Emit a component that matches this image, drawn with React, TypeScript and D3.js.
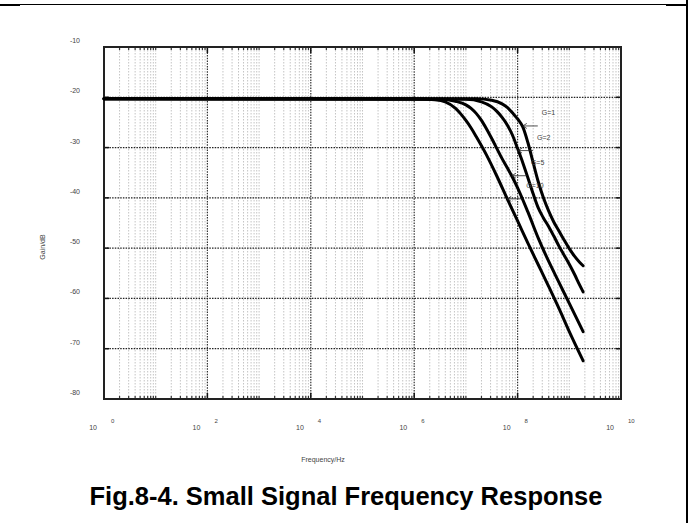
import * as d3 from "d3"

// gain axis ticks (dB) and frequency label exponents
const yTicks = [-10, -20, -30, -40, -50, -60, -70, -80]
const xLabelExps = [0, 2, 4, 6, 8, 10]
const seriesNames = ["G=1", "G=2", "G=5", "G=10"]

// [frequency Hz, gain dB]
const curveG1: [number, number][] = [
  [1, -20.3], [1.58e7, -20.3], [3.16e7, -20.6], [5.01e7, -21.3], [6.31e7, -22.0],
  [7.94e7, -23.1], [1e8, -24.3], [1.26e8, -25.9], [1.58e8, -29.0], [2.0e8, -33.0],
  [2.51e8, -36.8], [3.16e8, -40.0], [3.98e8, -42.6], [5.01e8, -44.8], [6.31e8, -46.6],
  [7.94e8, -48.4], [1e9, -50.1], [1.26e9, -51.6], [1.58e9, -52.8], [1.85e9, -53.5],
]
const curveG2: [number, number][] = [
  [1, -20.3], [1e7, -20.4], [2.0e7, -20.9], [3.16e7, -21.9], [3.98e7, -22.8],
  [5.01e7, -24.0], [6.31e7, -25.5], [7.94e7, -27.5], [1e8, -30.2], [1.26e8, -33.0],
  [1.58e8, -36.0], [2.0e8, -39.2], [2.51e8, -42.0], [3.16e8, -44.0], [3.98e8, -45.7],
  [5.01e8, -47.6], [6.31e8, -49.6], [7.94e8, -51.4], [1e9, -53.2], [1.26e9, -55.2],
  [1.58e9, -57.3], [1.85e9, -58.7],
]
const curveG5: [number, number][] = [
  [1, -20.3], [3.16e6, -20.4], [6.31e6, -20.8], [1e7, -21.5], [1.26e7, -22.2],
  [1.58e7, -23.2], [2.0e7, -24.6], [2.51e7, -26.3], [3.16e7, -28.2], [3.98e7, -30.2],
  [5.01e7, -32.2], [6.31e7, -34.0], [7.94e7, -35.9], [1e8, -38.0], [1.58e8, -42.8],
  [2.51e8, -48.0], [3.98e8, -52.6], [6.31e8, -56.8], [1e9, -61.0], [1.85e9, -66.6],
]
const curveG10: [number, number][] = [
  [1, -20.3], [1e6, -20.3], [2.51e6, -20.5], [3.98e6, -20.9], [6.31e6, -22.2],
  [7.94e6, -23.3], [1e7, -24.6], [1.26e7, -26.1], [1.58e7, -27.8], [2.51e7, -31.5],
  [3.98e7, -35.7], [6.31e7, -40.2], [1e8, -44.6], [1.58e8, -49.0], [2.51e8, -53.3],
  [3.98e8, -57.6], [6.31e8, -62.0], [1e9, -66.6], [1.85e9, -72.4],
]
const curves = [curveG1, curveG2, curveG5, curveG10]

// where each label's arrow touches its curve
const arrowTips: [number, number][] = [
  [1.26e8, -25.7], [1.02e8, -30.6], [7.76e7, -35.6], [6.31e7, -40.2],
]

const font = "'Liberation Sans', Arial, sans-serif"

export default function App() {
  const left = 104, right = 621, top = 47, bottom = 399
  const x = d3.scaleLog().domain([1, 1e10]).range([left, right])
  const y = d3.scaleLinear().domain([-80, -10]).range([bottom, top])

  const decades = d3.range(0, 10)
  const minor: number[] = []
  decades.forEach((k) => {
    for (let m = 2; m <= 9; m++) minor.push(m * Math.pow(10, k))
    if (k % 2 === 1) minor.push(Math.pow(10, k))
  })
  const major = [1e2, 1e4, 1e6, 1e8]

  const line = d3
    .line<[number, number]>()
    .x((d) => x(d[0]))
    .y((d) => y(d[1]))
    .curve(d3.curveMonotoneX)

  return (
    <div style={{ position: "absolute", left: 0, top: 0 }}>
      <svg width={690} height={523} style={{ display: "block", background: "#fff" }}>
        {/* page frame */}
        <line x1={0} x2={687} y1={4.5} y2={4.5} stroke="#000" strokeWidth={1} />
        <rect x={0} y={4} width={20} height={2} fill="#000" />
        <rect x={666} y={4} width={21} height={2} fill="#000" />
        <rect x={686} y={0} width={2} height={523} fill="#000" />

        {/* minor vertical grid */}
        {minor.map((v, i) => (
          <line key={"mg" + i} x1={x(v)} x2={x(v)} y1={top} y2={bottom}
            stroke="#c4c4c4" strokeWidth={1} strokeDasharray="1.5,1.5" />
        ))}
        {/* major vertical grid */}
        {major.map((v, i) => (
          <line key={"Mg" + i} x1={x(v)} x2={x(v)} y1={top} y2={bottom}
            stroke="#333" strokeWidth={1.2} strokeDasharray="1.5,1.2" />
        ))}
        {/* horizontal grid */}
        {yTicks.slice(1, -1).map((v) => (
          <line key={"hg" + v} x1={left} x2={right} y1={y(v)} y2={y(v)}
            stroke="#222" strokeWidth={1.3} strokeDasharray="1.5,1.2" />
        ))}

        {/* ticks top/bottom */}
        {minor.map((v, i) => (
          <g key={"tk" + i}>
            <line x1={x(v)} x2={x(v)} y1={top} y2={top + 3} stroke="#333" strokeWidth={1.2} />
            <line x1={x(v)} x2={x(v)} y1={bottom} y2={bottom - 3} stroke="#333" strokeWidth={1.2} />
          </g>
        ))}
        {major.map((v, i) => (
          <g key={"Mtk" + i}>
            <line x1={x(v)} x2={x(v)} y1={top} y2={top + 6} stroke="#111" strokeWidth={1.5} />
            <line x1={x(v)} x2={x(v)} y1={bottom} y2={bottom - 6} stroke="#111" strokeWidth={1.5} />
          </g>
        ))}
        {yTicks.slice(1, -1).map((v) => (
          <g key={"ytk" + v}>
            <line x1={left} x2={left + 5} y1={y(v)} y2={y(v)} stroke="#111" strokeWidth={1.5} />
            <line x1={right} x2={right - 5} y1={y(v)} y2={y(v)} stroke="#111" strokeWidth={1.5} />
          </g>
        ))}

        {/* plot frame */}
        <rect x={left} y={top} width={right - left} height={bottom - top}
          fill="none" stroke="#222" strokeWidth={2} />

        {/* curves */}
        {curves.map((c, i) => (
          <path key={"c" + i} d={line(c) || ""} fill="none" stroke="#000"
            strokeWidth={3} strokeLinejoin="round" strokeLinecap="round" />
        ))}

        {/* curve labels with arrows */}
        {arrowTips.map((t, i) => {
          const tx = x(t[0]), ty = y(t[1])
          return (
            <g key={"lab" + i}>
              <line x1={tx} x2={tx + 15} y1={ty} y2={ty} stroke="#222" strokeWidth={0.8} />
              <path d={`M${tx + 4},${ty - 2.5}L${tx},${ty}L${tx + 4},${ty + 2.5}`}
                fill="none" stroke="#222" strokeWidth={0.8} />
              <text x={tx + 19} y={ty - 11} fontSize={7} fontFamily={font} fill="#444">
                {seriesNames[i]}
              </text>
            </g>
          )
        })}

        {/* y tick labels */}
        {yTicks.map((v) => (
          <text key={"yl" + v} x={80} y={y(v) - 6.5} dy="0.35em" textAnchor="end"
            fontSize={7} fontFamily={font} fill="#444">
            {v}
          </text>
        ))}

        {/* x tick labels: 10 with superscript exponent */}
        {xLabelExps.map((e) => {
          const px = x(Math.pow(10, e))
          return (
            <g key={"xl" + e}>
              <text x={px - 7} y={430} textAnchor="end" fontSize={7} fontFamily={font} fill="#444">
                10
              </text>
              <text x={px + 7} y={423} fontSize={6} fontFamily={font} fill="#444">
                {e}
              </text>
            </g>
          )
        })}

        {/* axis titles */}
        <text x={323} y={460} dy="0.35em" textAnchor="middle" fontSize={7} fontFamily={font} fill="#444">
          Frequency/Hz
        </text>
        <text transform="translate(43,247) rotate(-90)" dy="0.35em" textAnchor="middle"
          fontSize={7} fontFamily={font} fill="#444">
          Gain/dB
        </text>

        {/* caption */}
        <text x={346} y={505} textAnchor="middle" fontSize={25.5} fontWeight="bold"
          fontFamily={font} fill="#000">
          Fig.8-4. Small Signal Frequency Response
        </text>
      </svg>
    </div>
  )
}
